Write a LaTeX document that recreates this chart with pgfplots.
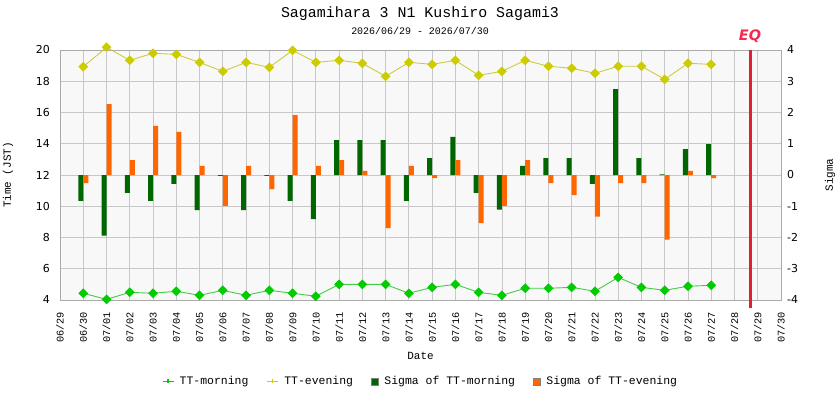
\documentclass[border=0pt]{standalone}
\usepackage{fontspec}
\setmainfont{DejaVu Sans}
\newfontfamily\monof{Liberation Mono}
\usepackage{pgfplots}
\usepackage{pgfplotstable}
\pgfplotsset{compat=1.18}
\definecolor{mgreen}{HTML}{00CC00}
\definecolor{mline}{HTML}{44CC44}
\definecolor{eyellow}{HTML}{CCCC00}
\definecolor{eline}{HTML}{CCCC44}
\definecolor{dkgreen}{HTML}{006600}
\definecolor{orng}{HTML}{FF6600}
\definecolor{eqred}{HTML}{E02030}
\definecolor{eqtext}{HTML}{F82850}
\definecolor{gridc}{HTML}{C8C8C8}
\definecolor{framec}{HTML}{AAAAAA}
\definecolor{bgc}{HTML}{F8F8F8}
\pgfplotsset{
  greenlegend/.style={legend image code/.code={\draw[mgreen, line width=1.2bp] (0bp,0bp)--(11bp,0bp); \draw[mgreen, line width=1.2bp] (5.5bp,-2.2bp)--(5.5bp,2.2bp); \path (15bp,0bp);}},
  yellowlegend/.style={legend image code/.code={\draw[eyellow, line width=1.2bp] (0bp,0bp)--(11bp,0bp); \draw[eyellow, line width=1.2bp] (5.5bp,-2.2bp)--(5.5bp,2.2bp); \path (15bp,0bp);}},
  myboxlegend/.style={legend image code/.code={\draw[##1] (2bp,-3.5bp) rectangle (9bp,3.5bp); \path (13bp,0bp);}},
}
\pgfplotstableread{
x m e sm se
1 4.43 18.93 -0.83 -0.26
2 4.04 20.17 -1.94 2.27
3 4.49 19.34 -0.57 0.48
4 4.43 19.79 -0.83 1.57
5 4.56 19.72 -0.28 1.38
6 4.30 19.21 -1.12 0.29
7 4.62 18.63 -0.03 -0.99
8 4.30 19.21 -1.12 0.29
9 4.62 18.89 -0.03 -0.45
10 4.43 19.98 -0.83 1.92
11 4.24 19.21 -1.41 0.29
12 5.00 19.34 1.12 0.48
13 5.00 19.15 1.12 0.13
14 5.00 18.31 1.12 -1.70
15 4.43 19.21 -0.83 0.29
16 4.81 19.08 0.54 -0.10
17 5.00 19.34 1.22 0.48
18 4.49 18.38 -0.57 -1.54
19 4.30 18.63 -1.11 -0.99
20 4.75 19.34 0.29 0.48
21 4.75 18.96 0.54 -0.26
22 4.81 18.83 0.54 -0.64
23 4.56 18.51 -0.28 -1.33
24 5.45 18.96 2.75 -0.26
25 4.81 18.96 0.54 -0.26
26 4.62 18.12 0.02 -2.07
27 4.88 19.15 0.83 0.13
28 4.94 19.08 0.99 -0.10
}\data
\begin{document}
\begin{tikzpicture}
\pgfplotsset{base/.style={scale only axis, width=721bp, height=250bp,
  at={(60bp,100bp)}, anchor=south west, xmin=0, xmax=31, clip=false,
  major tick length=0pt, /pgf/number format/assume math mode=true,
  tick label style={font=\fontsize{11}{13}\selectfont},
  label style={font=\monof\fontsize{11}{13}\selectfont},
  axis line style={draw=framec, line width=0.8bp}}}
\begin{axis}[base, ymin=-4, ymax=4, ytick={-4,...,4},
  ytick pos=right, yticklabel pos=right,
  xtick={0,...,31},
  xticklabels={06/29,06/30,07/01,07/02,07/03,07/04,07/05,07/06,07/07,07/08,07/09,07/10,07/11,07/12,07/13,07/14,07/15,07/16,07/17,07/18,07/19,07/20,07/21,07/22,07/23,07/24,07/25,07/26,07/27,07/28,07/29,07/30},
  grid=major, grid style={gridc, line width=0.8bp},
  axis background/.style={fill=bgc},
  xticklabel style={rotate=90, anchor=east, inner sep=0pt, font=\monof\fontsize{10.3}{12}\selectfont},
  xticklabel shift=12bp,
  yticklabel style={inner sep=0pt, anchor=west}, yticklabel shift=6bp,
  xlabel={Date}, xlabel style={at={(axis description cs:0.5,-0.24)}, anchor=base},
  ylabel={Sigma}, ylabel style={at={(axis description cs:1.068,0.5)}, anchor=center}]
\addplot[ybar, bar width=5bp, bar shift=-2.5bp, fill=dkgreen, draw=none] table[x=x,y=sm]{\data};
\addplot[ybar, bar width=5bp, bar shift=2.5bp, fill=orng, draw=none] table[x=x,y=se]{\data};
\addplot[eqred, line width=3bp] coordinates {(29.67,-4.26) (29.67,4)};
\node[anchor=base, text=eqtext, font=\bfseries\itshape\fontsize{14.5}{16}\selectfont] at (axis cs:29.67,4) [yshift=10bp] {EQ};
\end{axis}
\begin{axis}[base, ymin=4, ymax=20, ytick={4,6,...,20},
  axis x line=none, axis y line*=left,
  yticklabel style={inner sep=0pt, anchor=east}, yticklabel shift=10bp,
  ylabel={Time (JST)}, ylabel style={at={(axis description cs:-0.072,0.5)}, anchor=center},
  legend columns=4,
  legend style={draw=none, fill=none, at={(0.5,-0.325)}, anchor=center,
    font=\monof\fontsize{11.5}{13}\selectfont,
    /tikz/every even column/.append style={column sep=16bp}},
  ]
\addplot[mline, line width=0.9bp, mark=square*, mark size=3bp, mark options={rotate=45, fill=mgreen, draw=mgreen}, forget plot] table[x=x,y=m]{\data};
\addplot[eline, line width=0.9bp, mark=square*, mark size=3bp, mark options={rotate=45, fill=eyellow, draw=eyellow}, forget plot] table[x=x,y=e]{\data};
\addlegendimage{greenlegend}
\addlegendentry{TT-morning}
\addlegendimage{yellowlegend}
\addlegendentry{TT-evening}
\addlegendimage{fill=dkgreen, draw=gray, myboxlegend}
\addlegendentry{Sigma of TT-morning}
\addlegendimage{fill=orng, draw=gray, myboxlegend}
\addlegendentry{Sigma of TT-evening}
\end{axis}
\node[anchor=base, font=\monof\fontsize{15}{18}\selectfont] at (420bp,382.5bp) {Sagamihara 3 N1 Kushiro Sagami3};
\node[anchor=base, font=\monof\fontsize{10}{12}\selectfont] at (420bp,365bp) {2026/06/29 - 2026/07/30};
\pgfresetboundingbox
\path[use as bounding box] (0,0) rectangle (840bp,400bp);
\end{tikzpicture}
\end{document}
